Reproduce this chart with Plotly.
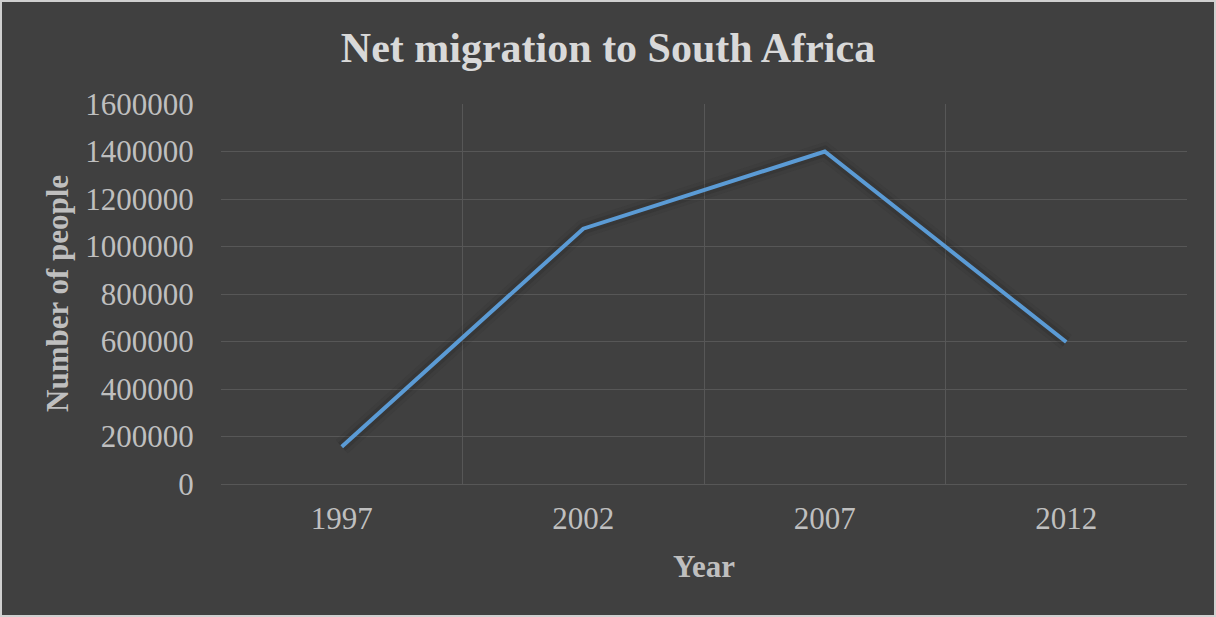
import plotly.graph_objects as go

years = ["1997", "2002", "2007", "2012"]
migrants = [157000, 1075000, 1400000, 598000]
y_ticks = [0, 200000, 400000, 600000, 800000, 1000000, 1200000, 1400000, 1600000]

W, H = 1216, 617
ML, MR, MT, MB = 221, 29, 104, 133
BG = "#404040"
FONT = "Liberation Serif, Times New Roman, serif"

fig = go.Figure()
# soft shadow under the line
for w, a in [(18, 0.08), (11, 0.12)]:
    fig.add_trace(go.Scatter(x=years, y=migrants, mode="lines",
                             line=dict(color=f"rgba(20,20,20,{a})", width=w),
                             hoverinfo="skip", showlegend=False))
fig.add_trace(go.Scatter(x=years, y=migrants, mode="lines",
                         line=dict(color="#5b9bd5", width=4),
                         showlegend=False))

pw = W - ML - MR
ph = H - MT - MB
fig.add_shape(type="rect", xref="paper", yref="paper",
              x0=-ML / pw + 1 / pw, x1=1 + (MR - 1) / pw,
              y0=-MB / ph + 1 / ph, y1=1 + (MT - 1) / ph,
              line=dict(color="#d0d0d0", width=2), layer="below")

fig.add_annotation(text="<b>Number of people</b>", textangle=-90,
                   xref="paper", yref="paper",
                   x=(57 - ML) / pw, y=(H - MB - 294) / ph,
                   xanchor="center", yanchor="middle", showarrow=False,
                   font=dict(family=FONT, size=31, color="#bfbfbf"))

fig.update_layout(
    width=W, height=H,
    margin=dict(l=ML, r=MR, t=MT, b=MB),
    paper_bgcolor=BG, plot_bgcolor=BG,
    font=dict(family=FONT, color="#bfbfbf", size=31),
    title=dict(text="<b>Net migration to South Africa</b>",
               font=dict(family=FONT, size=42, color="#d9d9d9"),
               x=0.5, xanchor="center", xref="container",
               y=1 - 47 / H, yanchor="middle", yref="container"),
    xaxis=dict(
        type="category", range=[-0.5, 3.5],
        tickson="boundaries", showgrid=True, gridcolor="#575757", gridwidth=1,
        ticks="", ticklabelstandoff=13,
        tickfont=dict(size=31, color="#bfbfbf"),
        showline=False, zeroline=False,
        title=dict(text="<b>Year</b>", font=dict(size=31, color="#bfbfbf"), standoff=20),
    ),
    yaxis=dict(
        range=[0, 1600000], tickmode="array", tickvals=y_ticks,
        ticktext=[str(v) for v in y_ticks],
        showgrid=True, gridcolor="#575757", gridwidth=1,
        zeroline=True, zerolinecolor="#575757", zerolinewidth=1,
        ticks="outside", ticklen=20, tickcolor=BG,
        tickfont=dict(size=31, color="#bfbfbf"),
        showline=False,
    ),
)

fig.write_html("out.html")
